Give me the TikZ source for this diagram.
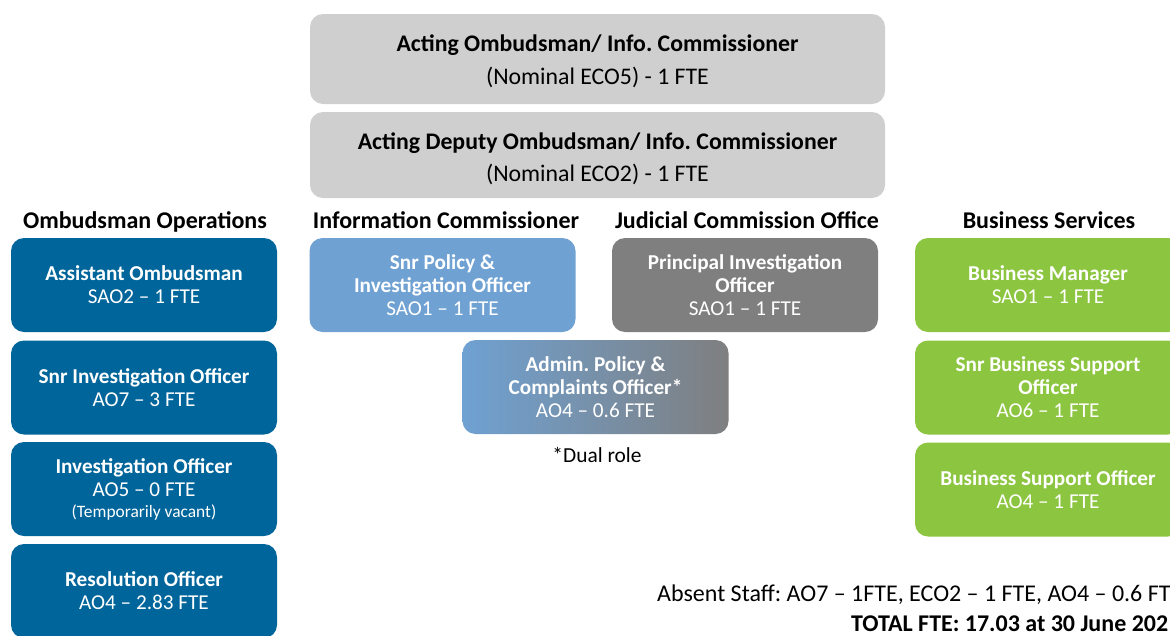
\documentclass[tikz,border=0pt]{standalone}
\usepackage{fontspec}
\setmainfont{Carlito}
\frenchspacing
\definecolor{opsblue}{HTML}{00659A}
\definecolor{infoblue}{HTML}{6FA1D2}
\definecolor{jcogray}{HTML}{7F7F7F}
\definecolor{topgray}{HTML}{CFCFCF}
\definecolor{bizgreen}{HTML}{8CC540}
\begin{document}
\begin{tikzpicture}[x=1pt,y=-1pt,
  card/.style={rounded corners=13pt, inner sep=0pt, align=center, text=white,
    minimum width=266pt, minimum height=94pt, font=\fontsize{21.2}{23}\selectfont},
  opsbox/.style={card, fill=opsblue},
  infobox/.style={card, fill=infoblue},
  jcobox/.style={card, fill=jcogray},
  bizbox/.style={card, fill=bizgreen},
  dualbox/.style={card, left color=infoblue, right color=jcogray},
  topbox/.style={rounded corners=13pt, inner sep=0pt, align=center, text=black,
    fill=topgray, minimum width=575pt, font=\fontsize{23.8}{33}\selectfont},
  head/.style={inner sep=0pt, anchor=base, font=\bfseries\fontsize{24}{26}\selectfont},
  note/.style={inner sep=0pt, anchor=base west, font=\fontsize{24}{27}\selectfont}]
\useasboundingbox (0,0) rectangle (1170,635);

% leadership
\node[topbox, minimum height=90pt] (ombud) at (597.5,59) {};
\node[align=center, inner sep=0pt, font=\fontsize{23.8}{33}\selectfont] (ombudtxt) at (597.5,61)
  {\textbf{Acting Ombudsman/ Info. Commissioner}\\(Nominal ECO5) - 1 FTE};
\node[topbox, minimum height=86pt] (deputy) at (597.5,155) {};
\node[align=center, inner sep=0pt, font=\fontsize{23.8}{32}\selectfont] (deputytxt) at (597.5,159)
  {\textbf{Acting Deputy Ombudsman/ Info. Commissioner}\\(Nominal ECO2) - 1 FTE};

% section headings
\node[head] (hops) at (145,228) {Ombudsman Operations};
\node[head] (hinfo) at (446,228) {Information Commissioner};
\node[head] (hjco) at (747,228) {Judicial Commission Office};
\node[head] (hbiz) at (1049,228) {Business Services};

% ombudsman operations
\node[opsbox] (asst) at (144,285) {\textbf{Assistant Ombudsman}\\SAO2 – 1 FTE};
\node[opsbox] (snrinv) at (144,387.5) {\textbf{Snr Investigation Officer}\\AO7 – 3 FTE};
\node[opsbox] (inv) at (144,489)
  {\textbf{Investigation Officer}\\AO5 – 0 FTE\\[-2pt]{\fontsize{17.4}{18}\selectfont(Temporarily vacant)}};
\node[opsbox] (resol) at (144,591) {\textbf{Resolution Officer}\\AO4 – 2.83 FTE};

% information commissioner / judicial commission office
\node[infobox] (snrpol) at (442.5,285)
  {\textbf{Snr Policy \&}\\\textbf{Investigation Officer}\\SAO1 – 1 FTE};
\node[jcobox] (princ) at (745,285)
  {\textbf{Principal Investigation}\\\textbf{Officer}\\SAO1 – 1 FTE};
\node[dualbox] (admin) at (595.5,387)
  {\textbf{Admin. Policy \&}\\\textbf{Complaints Officer*}\\AO4 – 0.6 FTE};
\node[inner sep=0pt, anchor=base, font=\fontsize{21.4}{24}\selectfont] (dual) at (597,462) {*Dual role};

% business services
\node[bizbox] (bizmgr) at (1048,285) {\textbf{Business Manager}\\SAO1 – 1 FTE};
\node[bizbox] (snrbiz) at (1048,387.5)
  {\textbf{Snr Business Support}\\\textbf{Officer}\\AO6 – 1 FTE};
\node[bizbox] (biz) at (1048,489.5) {\textbf{Business Support Officer}\\AO4 – 1 FTE};

% totals
\node[note] (absent) at (657,601) {Absent Staff: AO7 – 1FTE, ECO2 – 1 FTE, AO4 – 0.6 FTE};
\node[note, font=\bfseries\fontsize{24}{27}\selectfont] (total) at (851,631) {TOTAL FTE: 17.03 at 30 June 202};
\end{tikzpicture}
\end{document}
